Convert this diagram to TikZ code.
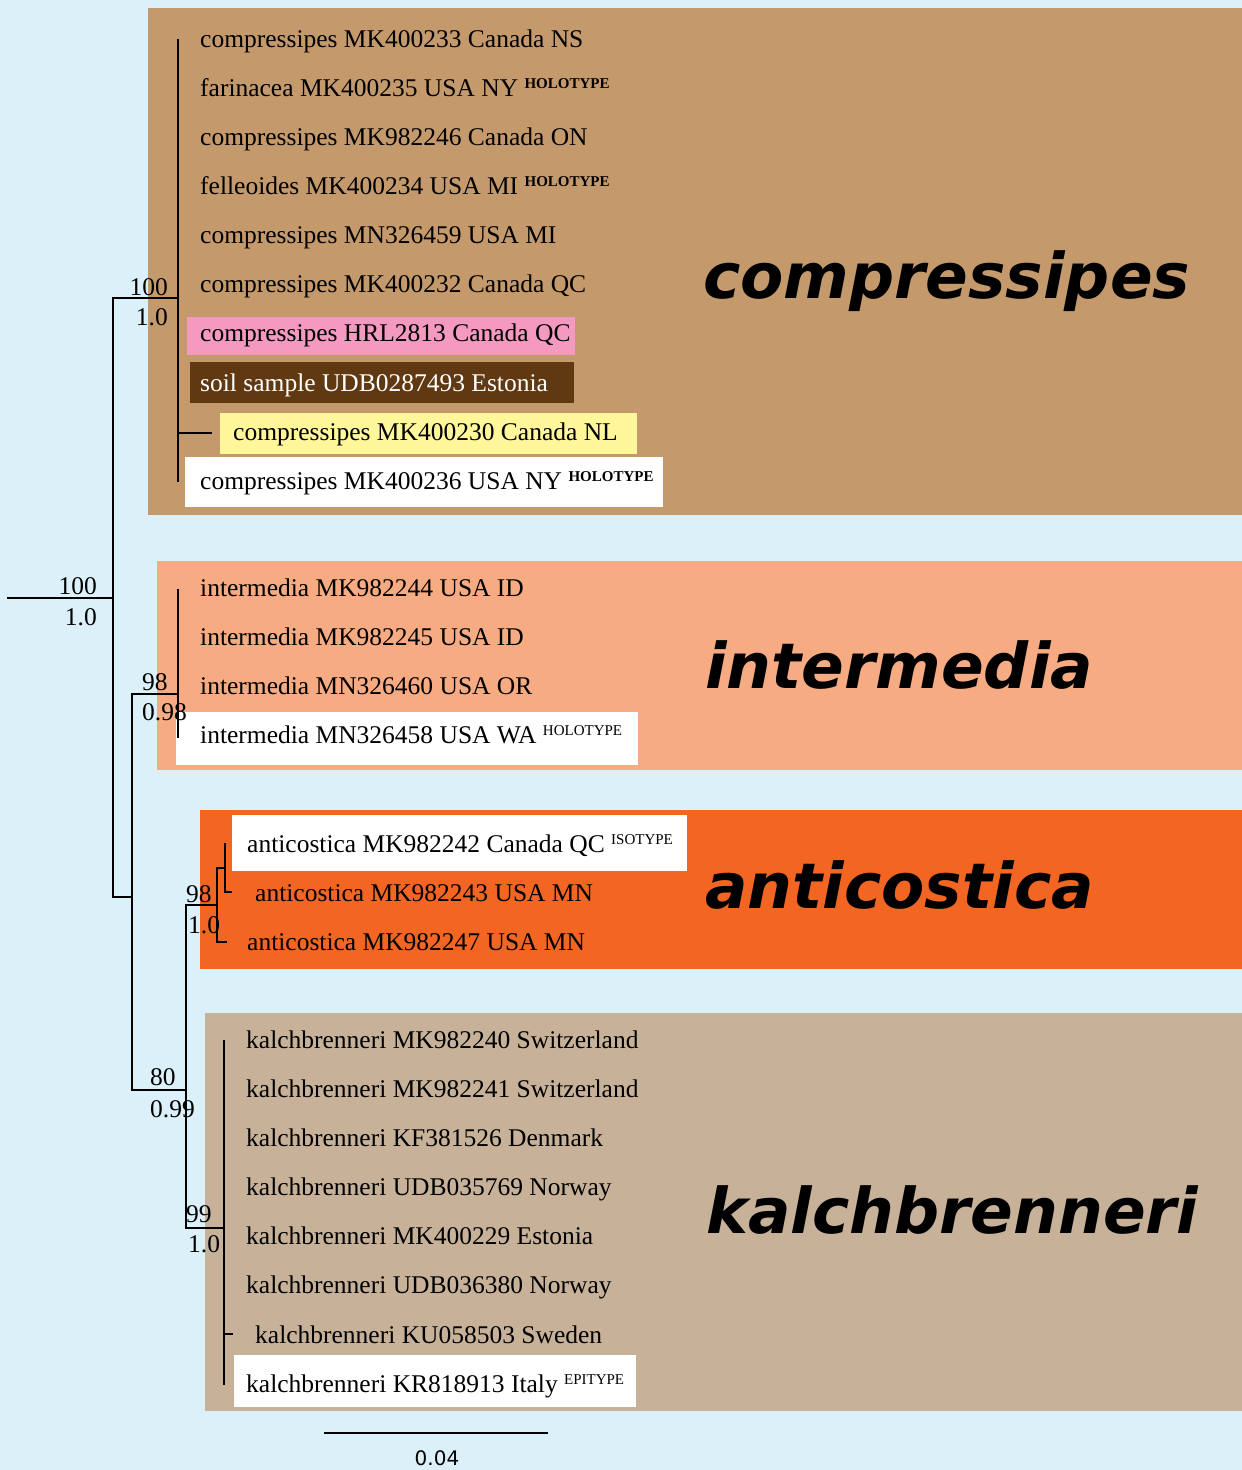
\documentclass[tikz,border=0pt]{standalone}
\usepackage{fontspec}
\usepackage{ifthen}
\usepackage{tikz}

\setmainfont{Liberation Serif}
\newfontfamily\cladefont{DejaVu Sans}
\newfontfamily\barfont{DejaVu Sans}

\definecolor{bgblue}{RGB}{220,240,250}
\definecolor{compressColor}{RGB}{196,154,108}
\definecolor{intermColor}{RGB}{246,171,130}
\definecolor{anticColor}{RGB}{242,101,34}
\definecolor{kalchColor}{RGB}{199,178,153}
\definecolor{pinkMark}{RGB}{244,154,193}
\definecolor{soilMark}{RGB}{96,57,19}
\definecolor{yellowMark}{RGB}{255,247,153}

\tikzset{
    branch/.style={line width=2pt, black},
    taxonlabel/.style={anchor=base west, inner sep=0pt, font=\fontsize{25.5}{28}\selectfont},
    support/.style={anchor=base east, inner sep=0pt, font=\fontsize{25.5}{28}\selectfont},
    cladelabel/.style={anchor=base west, inner sep=0pt, font=\cladefont\bfseries\itshape\fontsize{63}{70}\selectfont}
}

\begin{document}
\begin{tikzpicture}[x=1pt,y=-1pt]
            \useasboundingbox (0,0) rectangle (1242,1470);
            \fill[bgblue] (0,0) rectangle (1242,1470);

            % Define the macro.
            % 1st argument: Name of the label node.
            % 2nd argument: X position of the left end of the text.
            % 3rd argument: Y position of the base line.
            % 4th argument: Text of the label.
            % 5th argument: Type of specimen --> raised after the text, leave blank for none.
            % 6th argument: Text colour.

            \newcommand{\taxon}[6]{
                \ifthenelse {\equal{#5} {}}
                {\node[taxonlabel, text=#6] (#1) at (#2,#3) {#4};} % No type specimen.
                {\node[taxonlabel, text=#6] (#1) at (#2,#3) {#4 \raisebox{8pt}{\fontsize{15}{15}\selectfont #5}};} % Else, add the raised type.
            }

            % CLADE BOXES
            \fill[compressColor] (148,8) rectangle (1242,515);
            \fill[intermColor] (157,561) rectangle (1242,770);
            \fill[anticColor] (200,810) rectangle (1242,969);
            \fill[kalchColor] (205,1013) rectangle (1242,1411);

            % Marked sequences
            \fill[pinkMark] (187,317) rectangle (575,355);
            \fill[soilMark] (190,362) rectangle (574,403);
            \fill[yellowMark] (220,413) rectangle (637,454);
            \fill[white] (185,457) rectangle (663,507);
            \fill[white] (176,712) rectangle (638,765);
            \fill[white] (232,815) rectangle (687,871);
            \fill[white] (234,1355) rectangle (636,1407);

            % COMPRESSIPES
            \taxon{c1}{200}{47}{compressipes MK400233 Canada NS}{}{black}
            \taxon{c2}{200}{96}{farinacea MK400235 USA NY}{\bfseries HOLOTYPE}{black}
            \taxon{c3}{200}{145}{compressipes MK982246 Canada ON}{}{black}
            \taxon{c4}{200}{194}{felleoides MK400234 USA MI}{\bfseries HOLOTYPE}{black}
            \taxon{c5}{200}{243}{compressipes MN326459 USA MI}{}{black}
            \taxon{c6}{200}{292}{compressipes MK400232 Canada QC}{}{black}
            \taxon{c7}{200}{341}{compressipes HRL2813 Canada QC}{}{black}
            \taxon{c8}{200}{391}{soil sample UDB0287493 Estonia}{}{white}
            \taxon{c9}{233}{440}{compressipes MK400230 Canada NL}{}{black}
            \taxon{c10}{200}{489}{compressipes MK400236 USA NY}{\bfseries HOLOTYPE}{black}

            % INTERMEDIA
            \taxon{i1}{200}{596}{intermedia MK982244 USA ID}{}{black}
            \taxon{i2}{200}{645}{intermedia MK982245 USA ID}{}{black}
            \taxon{i3}{200}{694}{intermedia MN326460 USA OR}{}{black}
            \taxon{i4}{200}{743}{intermedia MN326458 USA WA}{HOLOTYPE}{black}

            % ANTICOSTICA
            \taxon{a1}{247}{852}{anticostica MK982242 Canada QC}{ISOTYPE}{black}
            \taxon{a2}{255}{901}{anticostica MK982243 USA MN}{}{black}
            \taxon{a3}{247}{950}{anticostica MK982247 USA MN}{}{black}

            % KALCHBRENNERI
            \taxon{k1}{246}{1048}{kalchbrenneri MK982240 Switzerland}{}{black}
            \taxon{k2}{246}{1097}{kalchbrenneri MK982241 Switzerland}{}{black}
            \taxon{k3}{246}{1146}{kalchbrenneri KF381526 Denmark}{}{black}
            \taxon{k4}{246}{1195}{kalchbrenneri UDB035769 Norway}{}{black}
            \taxon{k5}{246}{1244}{kalchbrenneri MK400229 Estonia}{}{black}
            \taxon{k6}{246}{1293}{kalchbrenneri UDB036380 Norway}{}{black}
            \taxon{k7}{255}{1343}{kalchbrenneri KU058503 Sweden}{}{black}
            \taxon{k8}{246}{1392}{kalchbrenneri KR818913 Italy}{EPITYPE}{black}

            % Clade names
            \node[cladelabel] (cname) at (703,298) {compressipes};
            \node[cladelabel] (iname) at (705,688) {intermedia};
            \node[cladelabel] (aname) at (705,908) {anticostica};
            \node[cladelabel] (kname) at (706,1233) {kalchbrenneri};

            % TREE
            \coordinate (root) at (7,598);
            \coordinate (n1) at (113,598);
            \coordinate (nC) at (178,298);   % compressipes
            \coordinate (nB) at (132,897);
            \coordinate (nI) at (178,694);   % intermedia
            \coordinate (nAK) at (186,1090);
            \coordinate (nA) at (217,905);   % anticostica
            \coordinate (nA2) at (225,868);
            \coordinate (nK) at (224,1228);  % kalchbrenneri

            \draw[branch] (root) -- (n1);
            \draw[branch] (n1) |- (nC);
            \draw[branch] (n1) |- (nB);
            \draw[branch] (nB) |- (nI);
            \draw[branch] (nB) |- (nAK);
            \draw[branch] (nAK) |- (nA);
            \draw[branch] (nAK) |- (nK);
            \draw[branch] (nA) |- (nA2);

            % Tip lines
            \coordinate (tC) at (212,433);
            \coordinate (tA2) at (232,892);
            \coordinate (tA3) at (227,942);
            \coordinate (tK) at (233,1334);
            \draw[branch] (178,39) -- (178,482);
            \draw[branch] (nC |- tC) -- (tC);
            \draw[branch] (178,589) -- (178,738);
            \draw[branch] (225,843) |- (tA2);
            \draw[branch] (nA) |- (tA3);
            \draw[branch] (224,1040) -- (224,1385);
            \draw[branch] (nK |- tK) -- (tK);

            % Support values (bootstrap / posterior)
            \node[support] (s1a) at (97,594) {100};
            \node[support] (s1b) at (97,625) {1.0};
            \node[support] (s2a) at (168,295) {100};
            \node[support] (s2b) at (168,325) {1.0};
            \node[support, anchor=base west] (s3a) at (142,690) {98};
            \node[support, anchor=base west] (s3b) at (142,720) {0.98};
            \node[support, anchor=base west] (s4a) at (150,1085) {80};
            \node[support, anchor=base west] (s4b) at (150,1117) {0.99};
            \node[support, anchor=base west] (s5a) at (186,902) {98};
            \node[support, anchor=base west] (s5b) at (188,933) {1.0};
            \node[support, anchor=base west] (s6a) at (186,1222) {99};
            \node[support, anchor=base west] (s6b) at (188,1252) {1.0};

            % Scale bar
            \coordinate (barL) at (324,1433);
            \coordinate (barR) at (548,1433);
            \draw[branch] (barL) -- (barR);
            \node[anchor=base, inner sep=0pt, font=\barfont\fontsize{20}{22}\selectfont] (barlabel) at (437,1465) {0.04};

\end{tikzpicture}
\end{document}
